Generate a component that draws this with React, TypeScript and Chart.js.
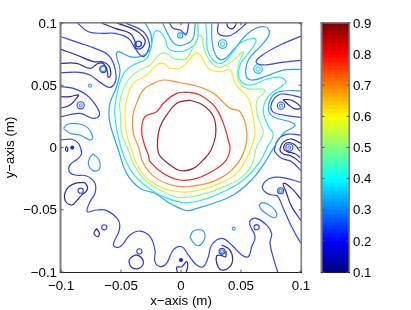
import React, { useEffect, useRef } from "react";
import { Chart, registerables } from "chart.js";

Chart.register(...registerables);

// Contour traces: flat x,y lists, in millimetres.
const darkRedLoop = [7.5,38, -3.5,35.5, -12,26, -17.5,16.5, -19.5,6, -19,-4, -16,-8.5, -9,-14, -1,-18.5, 10,-17, 18.5,-10, 25,-2, 29,11.5, 27,25, 18.5,34];
const redLoop = [7.5,44.3, -3.6,43.5, -14.7,35.5, -20.3,28.8, -30,24.8, -32.8,14.1, -30.8,3.4, -27.2,-6, -25.8,-11.4, -14.7,-20.8, -0.8,-26.1, 13,-24.8, 27,-18.6, 36.7,-11.4, 40.8,-2, 39.4,6, 35.3,19.4, 28.3,32.8, 15.8,42.2];
const orangeLoop = [-0.8,52, -14.7,54.2, -23,51.5, -31.4,46.2, -37,35.5, -40.3,24.8, -39.7,11.4, -35.5,0.7, -31.4,-12.7, -20.3,-24.8, -3.6,-31, 15.8,-30.1, 32.5,-24.8, 45,-15.4, 53,-2, 54.7,14, 49.2,28.8, 40.8,31.5, 27,43.5, 13,49.4];
const yellowLoop = [-0.8,63.6, -9.2,63.6, -14.7,67.6, -20.3,66.3, -28.6,58.2, -39.7,51.5, -45.3,38.2, -46.7,24.8, -45.3,11.4, -41.1,-2, -34.2,-18, -23,-28.8, -3.6,-35.5, 15.8,-34.1, 32.5,-28.8, 46.4,-20.8, 54.7,-8.7, 58.5,0, 61.7,11.4, 58.9,30.1, 56.1,39.5, 45,51.5, 40.8,62.2, 32.5,60.9, 22.8,63.6, 15.8,74.3, 11.7,75.6, 4.7,67.6];
const greenLoop = [2,70.3, -6.4,71.6, -12,75.6, -17.5,75.1, -25.8,66.3, -35.5,61.7, -43.9,54.2, -50.8,38.2, -50.3,24.8, -49.4,11.4, -43.9,-2, -38.3,-15.4, -28.6,-27.4, -12,-36.8, -0.8,-40.3, 15.8,-38.2, 32.5,-32.8, 49.2,-24.8, 58.9,-14, 63,0.6, 68.6,11.6, 64.4,23.7, 63,36.8, 70,46.2, 54.7,47.5, 47.8,54.2, 47.8,66.3, 52,77, 40.8,68, 31,64.5, 24,70, 19,80, 17.5,89, 15,90, 11.7,83.7, 6.1,73];
const cyanMain = [14.2,100, 13,85, 4.7,78.3, -3.6,77, -10.5,79.6, -13.3,87.7, -17.5,93, -21.7,93, -24.4,83.7, -28.6,71.6, -39.7,66.3, -46.7,60.9, -52,48.9, -55,32.8, -54.4,19.4, -49.4,-2, -41.1,-19.4, -28.6,-31.5, -14.7,-39.5, 2,-44.3, 15.8,-42.7, 35.3,-35.5, 52,-26.1, 65.8,-11.4, 71.4,-0.7, 76.9,10, 72.8,17, 68.6,30, 72.8,41, 85.3,50.2, 87.5,52.9, 82.5,56.4, 71.4,54.8, 57.5,50.2, 49.2,54.2, 49.2,66.3, 56.1,75.7, 62.5,85, 60.3,87.7, 49.2,83.7, 40,72.5, 33,67.5, 26,71, 22,79, 21.5,90, 20.5,100];
const skyMain = [-30,100, -25.8,93, -24.4,86.3, -25.8,78.3, -34.2,73, -42.5,73, -52.2,77, -53.9,74.3, -50.8,62.2, -53.6,49, -59.2,35.5, -59.7,22, -55,6, -52.2,-2, -45.3,-20.8, -34.2,-32.8, -21.7,-36.8, -9.2,-44.8, 4.7,-50.7, 13,-48.9, 27,-44.8, 43.6,-38.2, 58.9,-26, 68.6,-14, 76.9,-0.7, 85.3,11.4, 95,17.5, 90.8,20.7, 76.9,24.7, 72.8,31.5, 76.9,42.2, 85,45.4, 100,45.5];
const skyTopMiddle = [-15.3,100, -10.5,90.4, -5,82.9, 2,82.3, 9.7,86.9, 12,100];
const skyTopRight = [25.6,100, 26.1,83.7, 29.7,73, 35.3,70.8, 43.6,78.3, 57.5,93, 70,97, 73.6,91.7, 67.2,82.3, 56.1,70.3, 54.2,58.2, 58.9,54.2, 71.4,57.4, 85.3,62.2, 100,62.8];
const skyOvalLeft = [-98,15.4, -93.9,18.9, -84.2,18.9, -77.2,15.4, -73.6,8.7, -75.3,6, -84.2,10, -92.5,11.4];
const skyEggLeft = [-73,-5.2, -68.3,-10, -68,-17.5, -73,-18.6, -77.2,-13.3, -75.8,-7.9];
const skyOvalRight = [65,-46.2, 68.6,-44.3, 75.5,-47.5, 79.7,-52.9, 78.3,-56.4, 72.8,-54.2, 67.2,-50.2];
const skyEggBottom = [7.5,-71.6, 10.3,-67.1, 17.2,-66.3, 20,-70.3, 18.6,-75.6, 14.4,-78.9, 10.3,-76.4];
const blueOuter = [-100,6, -91.1,6.6, -85.6,3.4, -82.8,-4.7, -85.6,-8.7, -92.5,-14, -93,-19.4, -88.3,-22.1, -78.6,-22.9, -71.7,-28.8, -71.7,-36.8, -75.8,-43.5, -78.1,-51.5, -70.3,-50.2, -62,-50.7, -52.2,-58.2, -51.4,-66.3, -56.4,-78.3, -50.8,-79.7, -42.5,-70.3, -34.2,-67.1, -25.8,-71.6, -21.7,-82.3, -21.7,-91.7, -17.5,-95.7, -12,-93, -6.4,-82.3, 0.6,-79.7, 6.1,-86.3, 13,-94.4, 18.6,-95.7, 22.8,-87.7, 25.6,-78.3, 33.9,-73, 42.2,-78.3, 50.6,-86.3, 56.1,-87.7, 58.9,-79.7, 61.7,-71.6, 57.5,-62.3, 58.1,-58.2, 63,-56.9, 71.4,-62.3, 75.5,-68.9, 74.2,-77, 78.3,-93, 80.6,-100];
const blueTopLeftA = [-100,89, -85.6,84.2, -71.7,79.6, -60.6,74.3, -55.8,66.3, -54.2,58.2, -55,52.1, -59.2,48.3, -66.1,51.5, -75.8,58.2, -84.2,60.4, -100,60.1];
const blueTopLeftB = [-86.4,100, -77.2,93, -64.7,91.7, -55,91.7, -43.9,87.7, -38.3,79.6, -32,73, -27.8,77, -26.4,83.7, -31.4,93, -46,100];
const blueLeftLobe = [-100,48.9, -89.7,47.5, -78.6,42.2, -70.3,32.8, -68,26.1, -73,23.4, -84.2,27.4, -100,24.8];
const blueTopCentre = [-9.7,100, -6.4,95.7, -0.8,94.4, 2.5,91.7, 4.2,90.6, 5.6,94.4, 6.4,100];
const blueTopArc = [31.1,100, 31.1,91.7, 39.4,89.6, 46.4,93, 54.7,100];
const blueRightTop = [100,89.5, 82.5,82.3, 70,75.6, 62.5,69, 68.6,66.3, 82.5,68.2, 100,70];
const blueRightMid = [100,40.3, 88,42.7, 81.1,42.2, 75.5,35.5, 76.4,28.8, 85.3,26.1, 100,24.2];
const blueRightLobe = [100,10, 88,10.6, 81.1,6.6, 77.8,-2, 79.2,-4.7, 83.9,-8.7, 92.2,-11.4, 100,-18.6];
const blueRightLow = [100,-28, 88,-24.8, 77,-24, 70,-27.4, 68,-32.8, 72.8,-37.4, 79.7,-38.7, 81.7,-40.8, 85.3,-48.9, 93.6,-66.3, 100,-77];
const indigoTopLeft = [-100,78.8, -87,74.3, -73,69, -64.7,68.7, -59.7,65, -58.6,58.2, -60.6,56.4, -61.4,60.9, -64.2,67, -68.9,67.6, -75.8,63.6, -87,67.6, -100,67.6];
const indigoTopLobe = [-66.1,100, -55,95.7, -42.5,91.7, -38.3,85, -38.3,81, -35.5,79, -31.4,81, -30,86.3, -34.2,91.7, -41.1,95.7, -53.6,100];
const indigoLeftLeaf = [-100,40.8, -92.5,40.8, -85.6,42.2, -88.3,38.2, -92.5,34.1, -100,31.5];
const indigoBlobLeft = [-80,-28.2, -88.3,-28.8, -95.3,-33.6, -96.7,-42.2, -91.1,-46.2, -86.4,-42.2, -82.8,-38.2, -79.2,-35.5, -77.8,-32];
const indigoBottomLeft = [-42.5,-89, -37,-86.3, -31.4,-91.7, -34.7,-97, -41.1,-96.3, -43.3,-91.7];
const indigoSeed = [-70.3,-65, -68,-69, -69.4,-71.6, -72.5,-69];
const indigoBottomCentre = [-3,-100, -3.6,-96.3, 0.6,-95.7, 4.7,-91.7, 5.6,-95.7, 4.2,-100];
const indigoTopSmall = [38,100, 39.4,96.5, 43,95.5, 45.6,98.4, 45.8,100];
const indigoLeaf = [85,38.5, 92,38, 100,32, 95,31, 90,34];
const indigoRightHook = [100,3.3, 92.2,6.8, 85.8,4.7, 82.5,-2, 85.3,-5.2, 90.8,-6.5, 95,-8.7, 100,-12.7];
const indigoRightInner = [99,-3, 95,2, 90,4, 86.5,2.5, 85.8,-1.5, 89,-3.5, 95,-5, 99,-8];
const indigoRightLow = [100,-41.6, 92.2,-32.8, 85.3,-28.8, 88,-36.8, 92.2,-47.5, 100,-58.8];
const indigoBottomHook = [33.9,-78.3, 40.3,-81.8, 43,-89, 40.8,-95.7, 33.9,-98.4, 30.3,-94.4, 29.7,-87.1, 33.1,-86.6, 37.2,-87.7, 37.5,-83.1];
const indigoSmallLeft = [-95.5,0.8, -94.3,-1, -95,-3.2, -96.3,-1.2];

// Tiny closed contours around local extrema: centre x,y lists, in millimetres.
const blueRingLarge = [-64.8,63, -83.6,33.9, 83.3,33.6, 90.3,-0.1];
const blueRingMedium = [-35.3,83.1, 34.2,-83.4, 83,-34.7];
const blueRingSmall = [63,-64, -34.7,-83.4, -63.9,-64.1, -83.6,-34.7];
const skyRingLarge = [34.7,83.1, 64.2,63];
const skyRingMedium = [-0.6,90, -64.8,63, -35.3,83.1];
const skyRingSmall = [-83.6,33.9, 83.3,33.6, 90.3,-0.1, 34.2,-83.4, 83,-34.7, -75.8,49.6, 44,-65.2];
const cyanRings = [34.7,83.1, 64.2,63];
const cyanDots = [-0.6,90];
const blueDots = [-90.6,-0.1, 0,-90.4];

const xTicks = [-0.1, -0.05, 0, 0.05, 0.1];
const xTickLabels = ["\u22120.1", "\u22120.05", "0", "0.05", "0.1"];
const yTicks = [-0.1, -0.05, 0, 0.05, 0.1];
const yTickLabels = ["\u22120.1", "\u22120.05", "0", "0.05", "0.1"];
const colorTicks = [0.1, 0.2, 0.3, 0.4, 0.5, 0.6, 0.7, 0.8, 0.9];
const colorTickLabels = ["0.1", "0.2", "0.3", "0.4", "0.5", "0.6", "0.7", "0.8", "0.9"];
const colorBandFloors = [
  0.1, 0.1125, 0.125, 0.1375, 0.15, 0.1625, 0.175, 0.1875, 0.2, 0.2125, 0.225, 0.2375, 0.25, 0.2625, 0.275, 0.2875,
  0.3, 0.3125, 0.325, 0.3375, 0.35, 0.3625, 0.375, 0.3875, 0.4, 0.4125, 0.425, 0.4375, 0.45, 0.4625, 0.475, 0.4875,
  0.5, 0.5125, 0.525, 0.5375, 0.55, 0.5625, 0.575, 0.5875, 0.6, 0.6125, 0.625, 0.6375, 0.65, 0.6625, 0.675, 0.6875,
  0.7, 0.7125, 0.725, 0.7375, 0.75, 0.7625, 0.775, 0.7875, 0.8, 0.8125, 0.825, 0.8375, 0.85, 0.8625, 0.875, 0.8875,
];

const DARK_RED = "#a01c28";
const RED = "#f42424";
const ORANGE = "#ff8c24";
const YELLOW = "#ffe624";
const GREEN = "#8cff80";
const CYAN = "#24eaea";
const SKY = "#24a0ff";
const BLUE = "#3044f4";
const INDIGO = "#2828b0";

const traces: { xy: number[]; color: string; closed?: boolean }[] = [
  { xy: darkRedLoop, color: DARK_RED, closed: true },
  { xy: redLoop, color: RED, closed: true },
  { xy: orangeLoop, color: ORANGE, closed: true },
  { xy: yellowLoop, color: YELLOW, closed: true },
  { xy: greenLoop, color: GREEN, closed: true },
  { xy: cyanMain, color: CYAN },
  { xy: skyMain, color: SKY },
  { xy: skyTopMiddle, color: SKY },
  { xy: skyTopRight, color: SKY },
  { xy: skyOvalLeft, color: SKY, closed: true },
  { xy: skyEggLeft, color: SKY, closed: true },
  { xy: skyOvalRight, color: SKY, closed: true },
  { xy: skyEggBottom, color: SKY, closed: true },
  { xy: blueOuter, color: BLUE },
  { xy: blueTopLeftA, color: BLUE },
  { xy: blueTopLeftB, color: BLUE },
  { xy: blueLeftLobe, color: BLUE },
  { xy: blueTopCentre, color: BLUE },
  { xy: blueTopArc, color: BLUE },
  { xy: blueRightTop, color: BLUE },
  { xy: blueRightMid, color: BLUE },
  { xy: blueRightLobe, color: BLUE },
  { xy: blueRightLow, color: BLUE },
  { xy: indigoTopLeft, color: INDIGO },
  { xy: indigoTopLobe, color: INDIGO },
  { xy: indigoLeftLeaf, color: INDIGO },
  { xy: indigoBlobLeft, color: INDIGO, closed: true },
  { xy: indigoBottomLeft, color: INDIGO, closed: true },
  { xy: indigoSeed, color: INDIGO, closed: true },
  { xy: indigoBottomCentre, color: INDIGO },
  { xy: indigoTopSmall, color: INDIGO },
  { xy: indigoLeaf, color: INDIGO, closed: true },
  { xy: indigoRightHook, color: INDIGO },
  { xy: indigoRightInner, color: INDIGO },
  { xy: indigoRightLow, color: INDIGO },
  { xy: indigoBottomHook, color: INDIGO },
  { xy: indigoSmallLeft, color: INDIGO, closed: true },
];

const rings: { xy: number[]; color: string; radius: number; filled?: boolean }[] = [
  { xy: blueRingLarge, color: BLUE, radius: 3.6 },
  { xy: blueRingMedium, color: BLUE, radius: 3 },
  { xy: blueRingSmall, color: BLUE, radius: 2.6 },
  { xy: skyRingLarge, color: SKY, radius: 4.3 },
  { xy: skyRingMedium, color: SKY, radius: 2.6 },
  { xy: skyRingSmall, color: SKY, radius: 1.5 },
  { xy: cyanRings, color: CYAN, radius: 2.1 },
  { xy: cyanDots, color: CYAN, radius: 0.7 },
  { xy: blueDots, color: "#2323ee", radius: 1.5, filled: true },
];

function toPoints(xy: number[]) {
  const pts: { x: number; y: number }[] = [];
  for (let i = 0; i + 1 < xy.length; i += 2) pts.push({ x: xy[i] / 1000, y: xy[i + 1] / 1000 });
  return pts;
}

function jet(v: number) {
  const t = (v - 0.1) / 0.8 + 1 / 128;
  const c = (x: number) => Math.round(255 * Math.max(0, Math.min(1, x)));
  const r = c(Math.min(4 * t - 1.5, -4 * t + 4.5));
  const g = c(Math.min(4 * t - 0.5, -4 * t + 3.5));
  const b = c(Math.min(4 * t + 0.5, -4 * t + 2.5));
  return `rgb(${r},${g},${b})`;
}

const FONT = "'Liberation Sans', Arial, sans-serif";
const FONT_SIZE = 13.3;
const GREY = "#7f7f7f";

// Nudges a vertical axis' tick labels down, so they centre on the tick as the reference's do.
function nudgeLabels(s: any, dy: number) {
  if (s._nudged) return;
  s._nudged = true;
  const compute = s._computeLabelItems.bind(s);
  s._computeLabelItems = (area: any) => {
    const items = compute(area);
    items.forEach((it: any) => {
      it.options.translation = [it.options.translation[0], it.options.translation[1] + dy];
    });
    return items;
  };
}

const framePlugin = {
  id: "matlabFrame",
  afterDraw(chart: any) {
    const { ctx, chartArea: a } = chart;
    ctx.save();
    ctx.fillStyle = GREY;
    ctx.fillRect(a.left - 1.5, a.top - 1, 2, a.bottom - a.top + 2);
    ctx.fillRect(a.left - 1.5, a.top - 1, a.right - a.left + 3, 1.6);
    ctx.fillRect(a.right - 0.5, a.top - 1, 1.6, a.bottom - a.top + 2);
    ctx.fillStyle = "#222";
    ctx.fillRect(a.left - 1, a.bottom, a.right - a.left + 2, 1);
    ctx.fillStyle = "#555";
    const y = chart.scales.y;
    for (let i = 0; i < y.ticks.length; i++) {
      const p = y.getPixelForTick(i);
      ctx.fillRect(a.left, p - 0.5, 2.4, 1);
      ctx.fillRect(a.right - 2.4, p - 0.5, 2.4, 1);
    }
    const x = chart.scales.x;
    if (x.type === "linear") {
      for (let i = 0; i < x.ticks.length; i++) {
        const p = x.getPixelForTick(i);
        ctx.fillRect(p - 0.5, a.top, 1, 2.4);
        ctx.fillRect(p - 0.5, a.bottom - 2.4, 1, 2.4);
      }
    }
    ctx.restore();
  },
};

export default function App() {
  const mainRef = useRef<HTMLCanvasElement | null>(null);
  const barRef = useRef<HTMLCanvasElement | null>(null);

  useEffect(() => {
    const noPad = (s: any) => {
      s.paddingLeft = 0;
      s.paddingRight = 0;
      s.paddingTop = 0;
      s.paddingBottom = 0;
    };
    const lineSets = traces.map((t) => {
      const pts = toPoints(t.xy);
      if (t.closed) pts.push(pts[0]);
      return {
        data: pts,
        showLine: true,
        borderColor: t.color,
        borderWidth: 1.2,
        tension: 0.42,
        pointRadius: 0,
        fill: false,
      };
    });
    const ringSets = rings.map((r) => ({
      data: toPoints(r.xy),
      showLine: false,
      pointRadius: r.radius,
      pointBorderColor: r.color,
      pointBorderWidth: 1.1,
      pointBackgroundColor: r.filled ? r.color : "transparent",
    }));
    const main = new Chart(mainRef.current as HTMLCanvasElement, {
      type: "scatter",
      data: { datasets: [...lineSets, ...ringSets] as any },
      options: {
        animation: false,
        responsive: false,
        events: [],
        layout: { padding: { top: 23, right: 110, left: 0, bottom: 0 } },
        plugins: { legend: { display: false }, tooltip: { enabled: false } },
        scales: {
          x: {
            type: "linear",
            min: -0.1,
            max: 0.1,
            grid: { display: false, drawTicks: false },
            border: { display: false },
            afterBuildTicks: (s: any) => {
              s.ticks = xTicks.map((value) => ({ value }));
            },
            afterFit: (s: any) => {
              s.height = 38;
              noPad(s);
            },
            ticks: {
              autoSkip: false,
              maxRotation: 0,
              padding: 6,
              color: "#000",
              font: { family: FONT, size: FONT_SIZE },
              callback: (v: any) => xTickLabels[xTicks.indexOf(Number(v))] ?? "",
            },
            title: {
              display: true,
              text: "x\u2212axis (m)",
              color: "#000",
              font: { family: FONT, size: FONT_SIZE },
              padding: { top: 0, bottom: 1 },
            },
          },
          y: {
            type: "linear",
            min: -0.1,
            max: 0.1,
            grid: { display: false, drawTicks: false },
            border: { display: false },
            afterBuildTicks: (s: any) => {
              s.ticks = yTicks.map((value) => ({ value }));
            },
            afterFit: (s: any) => {
              s.width = 61;
              noPad(s);
              nudgeLabels(s, 1);
            },
            ticks: {
              autoSkip: false,
              padding: 4,
              color: "#000",
              font: { family: FONT, size: FONT_SIZE },
              callback: (v: any) => yTickLabels[yTicks.indexOf(Number(v))] ?? "",
            },
            title: {
              display: true,
              text: "y\u2212axis (m)",
              color: "#000",
              font: { family: FONT, size: FONT_SIZE },
              padding: { top: 2, bottom: 0 },
            },
          },
        },
      },
      plugins: [framePlugin as any],
    });

    const bands = [...colorBandFloors].reverse().map((lo) => ({
      data: [[lo, 0.9]],
      backgroundColor: jet(lo),
      borderWidth: 0,
      barPercentage: 1,
      categoryPercentage: 1,
    }));
    const bar = new Chart(barRef.current as HTMLCanvasElement, {
      type: "bar",
      data: { labels: ["scale"], datasets: bands as any },
      options: {
        animation: false,
        responsive: false,
        events: [],
        layout: { padding: { top: 23, left: 322, right: 0, bottom: 38 } },
        plugins: { legend: { display: false }, tooltip: { enabled: false } },
        scales: {
          x: { stacked: true, display: false },
          y: {
            position: "right",
            min: 0.1,
            max: 0.9,
            grid: { display: false, drawTicks: false },
            border: { display: false },
            afterBuildTicks: (s: any) => {
              s.ticks = colorTicks.map((value) => ({ value }));
            },
            afterFit: (s: any) => {
              s.width = 62;
              noPad(s);
              nudgeLabels(s, 1);
            },
            ticks: {
              autoSkip: false,
              padding: 4,
              color: "#000",
              font: { family: FONT, size: FONT_SIZE },
              callback: (v: any) => colorTickLabels[colorTicks.indexOf(Number(v))] ?? "",
            },
          },
        },
      },
      plugins: [framePlugin as any],
    });
    return () => {
      main.destroy();
      bar.destroy();
    };
  }, []);

  const canvasStyle: React.CSSProperties = { position: "absolute", left: 0, top: 0 };
  return (
    <div style={{ position: "fixed", left: 0, top: 0, width: 411, height: 310, background: "#fff" }}>
      <canvas ref={mainRef} width={411} height={310} style={canvasStyle} />
      <canvas ref={barRef} width={411} height={310} style={canvasStyle} />
    </div>
  );
}
